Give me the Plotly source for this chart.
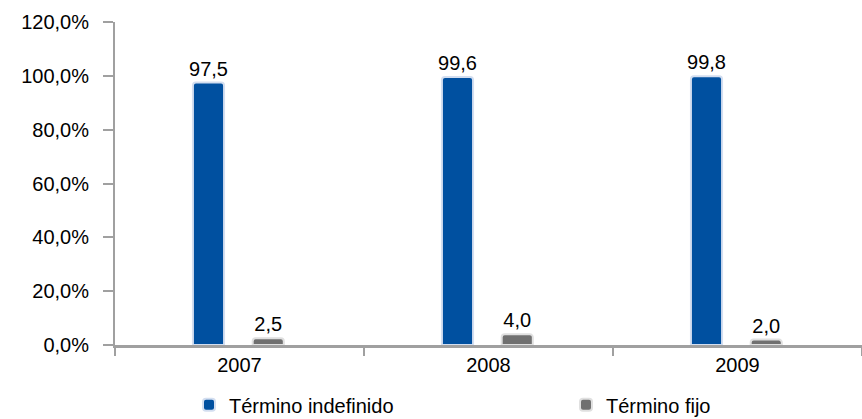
import plotly.graph_objects as go

years = ["2007", "2008", "2009"]
indefinido = [97.5, 99.6, 99.8]
fijo = [2.5, 4.0, 2.0]
series_names = ["Término indefinido", "Término fijo"]

label_font = dict(color="#000000", size=20)

fig = go.Figure()
fig.add_trace(go.Bar(
    x=years, y=indefinido, name=series_names[0], legend="legend",
    width=0.125, offset=-0.187,
    marker=dict(color="#0050A0", line=dict(color="#D3DEF0", width=2), cornerradius=3),
    texttemplate="%{y:.1f}", textposition="outside", textfont=label_font,
    constraintext="none", cliponaxis=False,
))
fig.add_trace(go.Bar(
    x=years, y=fijo, name=series_names[1], legend="legend2",
    width=0.125, offset=0.053,
    marker=dict(color="#707070", line=dict(color="#E0E0E0", width=2), cornerradius=3),
    texttemplate="%{y:.1f}", textposition="outside", textfont=label_font,
    constraintext="none", cliponaxis=False,
))

legend_style = dict(orientation="h", xref="container", yref="container",
                    xanchor="left", y=0.034, yanchor="middle", font=dict(size=20))

fig.update_layout(
    width=862, height=419,
    margin=dict(l=115, r=0, t=22, b=74),
    paper_bgcolor="white", plot_bgcolor="white",
    separators=",.",
    font=dict(family="Liberation Sans, Arial, sans-serif", size=20, color="#000000"),
    showlegend=True,
    legend=dict(x=189 / 862, **legend_style),
    legend2=dict(x=566 / 862, **legend_style),
    barmode="group",
)
fig.update_xaxes(
    showline=True, linecolor="#A0A0A0", linewidth=3,
    ticks="outside", tickson="boundaries", ticklen=8, tickcolor="#A0A0A0", tickwidth=2,
    showgrid=False, zeroline=False, automargin=False,
)
fig.update_yaxes(
    range=[0, 120], dtick=20, tickformat=".1f", ticksuffix="%",
    showline=True, linecolor="#A0A0A0", linewidth=2,
    ticks="outside", ticklen=10, tickcolor="#A0A0A0", tickwidth=2, ticklabelstandoff=10,
    showgrid=False, zeroline=False, automargin=False,
)

fig.write_html("out.html", config={"displayModeBar": False},
               post_script="document.body.style.margin='0';")
